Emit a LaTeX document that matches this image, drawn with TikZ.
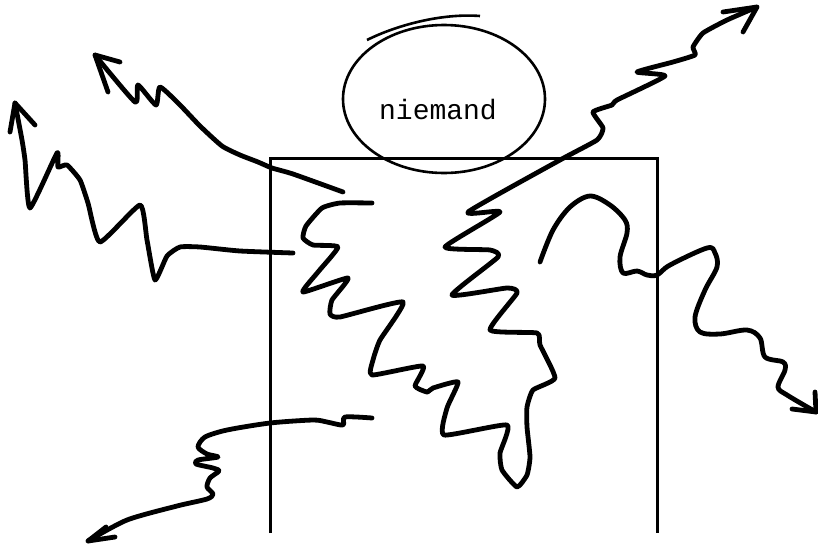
\documentclass[tikz,border=0pt]{standalone}
\usepackage{fontspec}
\newfontfamily\courierfont{Liberation Mono}
\usetikzlibrary{shapes.geometric}
\tikzset{
  frameline/.style={line width=3pt, line cap=butt},
  blobline/.style={line width=2.6pt},
  squiggle/.style={line width=4.8pt, line cap=round, line join=round},
  barb/.style={line width=4.8pt, line cap=round, line join=round},
}
\begin{document}
\begin{tikzpicture}[x=1pt,y=-1pt]
\useasboundingbox (0,0) rectangle (818,544);
% open box
\coordinate (bl) at (270,533);
\coordinate (tl) at (270,158);
\coordinate (tr) at (657,158);
\coordinate (br) at (657,533);
\draw[frameline] (bl) -- (tl) -- (tr) -- (br);
% circle-ish blob with label
\node[ellipse, draw, blobline, minimum width=202pt, minimum height=148pt, inner sep=0pt] (blob) at (444,99) {};
\draw[blobline] (367,40) .. controls (395,26) and (440,13) .. (480,16);
\node[font=\courierfont\fontsize{28}{30}\selectfont, anchor=base, inner sep=0pt] (lbl) at (438,119) {niemand};
% long zigzag through the box up to the upper right arrow
\coordinate (wtip) at (757,7);
\draw[squiggle] plot[smooth, tension=0.3] coordinates {
 (372,203) (340,203) (322,208) (306,226) (303,238) (313,245) (338,247)
 (318,272) (303,292) (348,278) (332,300) (330,314) (340,317) (403,302)
 (380,340) (373,360) (372,375) (423,366) (415,386) (427,392) (433,388)
 (458,382) (447,408) (444,435) (507,425) (500,453) (502,470) (517,487)
 (527,475) (530,457) (527,427) (527,407) (533,390) (555,378) (540,345)
 (537,333) (490,330) (517,293) (507,288) (452,295) (498,257) (490,250)
 (445,247) (500,212) (468,212) (560,160) (597,140) (603,128) (593,112)
 (612,105) (617,100) (665,76) (637,72) (673,62) (695,55) (693,47)
 (703,33) (727,20) (757,7)};
\draw[barb] (723,12) -- (wtip) -- (743,32);
% upper left arrow
\coordinate (atip) at (95,55);
\draw[squiggle] plot[smooth, tension=0.35] coordinates {
 (343,192) (293,174) (272,168) (258,162) (240,155) (222,146) (200,126)
 (180,105) (160,87) (156,105) (138,85) (135,102) (95,55)};
\draw[barb] (120,62) -- (atip) -- (108,92);
% left arrow
\coordinate (btip) at (15,103);
\draw[squiggle] plot[smooth, tension=0.3] coordinates {
 (293,253) (240,251) (200,247) (180,247) (167,256) (155,280) (147,240)
 (140,205) (100,242) (88,203) (80,180) (67,165) (58,167) (57,153)
 (30,208) (25,160) (22,140) (15,103)};
\draw[barb] (10,132) -- (btip) -- (35,125);
% right wavy arrow
\coordinate (rtip) at (816,412);
\draw[squiggle] plot[smooth, tension=0.55] coordinates {
 (540,262) (553,230) (570,207) (590,196) (610,205) (625,220) (627,233)
 (620,257) (623,273) (637,271) (647,275) (657,275) (670,265) (707,248)
 (715,253) (717,267) (705,290) (695,317) (700,332) (720,334) (747,330)
 (760,338) (765,357) (783,362) (785,370) (778,387) (787,395) (816,412)};
\draw[barb] (792,409) -- (rtip) -- (815,392);
% lower left arrow
\coordinate (ltip) at (88,541);
\draw[squiggle] plot[smooth, tension=0.45] coordinates {
 (372,418) (345,417) (343,425) (327,422) (313,420) (270,423) (227,430)
 (205,437) (198,447) (207,454) (218,457) (198,460) (196,464) (213,468)
 (219,471) (210,478) (207,487) (213,494) (207,499) (177,506) (127,520)
 (88,541)};
\draw[barb] (106,527) -- (ltip) -- (115,537);
\end{tikzpicture}
\end{document}
